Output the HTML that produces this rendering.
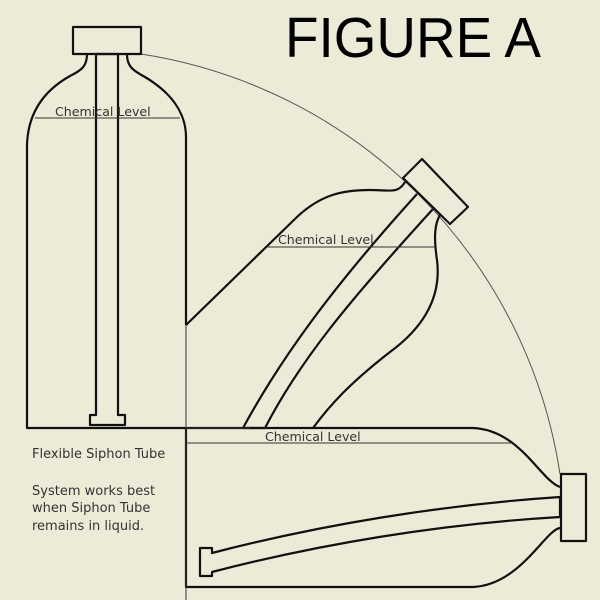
<!DOCTYPE html>
<html><head><style>
html,body{margin:0;padding:0;background:#ecebd7;}
svg{display:block}
</style></head><body>
<svg width="600" height="600" viewBox="0 0 600 600" xmlns="http://www.w3.org/2000/svg">
<rect width="600" height="600" fill="#ecebd7"/>
<path d="M141,54 A501,501 0 0 1 560,474" fill="none" stroke="#555" stroke-width="1"/>
<g fill="none" stroke="#111" stroke-width="2.2" stroke-linejoin="round">
<rect x="73" y="27" width="68" height="27"/>
<path d="M87,54 C87,66 82,70 70,76 C45,90 28,112 27,145 L27,428 L186,428"/>
<path d="M127,54 C127,66 132,70 145,77 C170,92 186,112 186,137 L186,325"/>
<path d="M96,54 L96,415 L90,415 L90,425 L125,425 L125,415 L118,415 L118,54 Z"/>
<path d="M186,325 L298,216 C320,196 340,190 370,190 C390,190 398,194 405,182"/>
<polygon points="403,178 422,159 468,207 450,224"/>
<path d="M440,215 C434,225 434,240 437,260 C442,300 420,330 390,352 C350,383 330,405 313,428"/>
<path d="M243,428 C280,360 330,290 417,194"/>
<path d="M265,428 C300,360 350,300 433,209"/>
<path d="M243,428 L265,428"/>
<path d="M186,428 L473,428 C520,430 540,480 560,487"/>
<path d="M186,428 L186,587 L473,587 C520,585 545,530 560,528"/>
<rect x="561" y="474" width="25" height="67"/>
<path d="M560,497 C440,505 320,525 212,553 L212,548 L200,548 L200,576 L212,576 L212,572 C320,544 440,524 560,517 Z"/>
</g>
<g stroke="#333" stroke-width="1" fill="none">
<line x1="35" y1="118" x2="180" y2="118"/>
<line x1="268" y1="247" x2="435" y2="247"/>
<line x1="186" y1="443" x2="512" y2="443"/>
<line x1="186" y1="325" x2="186" y2="600"/>
<line x1="186" y1="428" x2="250" y2="428"/>
</g>
<g font-family="DejaVu Sans, sans-serif" fill="#333" font-size="12.6">
<text x="55" y="116">Chemical Level</text>
<text x="278" y="244">Chemical Level</text>
<text x="265" y="441">Chemical Level</text>
<text x="32" y="458" font-size="13">Flexible Siphon Tube</text>
<text x="32" y="495" font-size="13">System works best</text>
<text x="32" y="512" font-size="13">when Siphon Tube</text>
<text x="32" y="530" font-size="13">remains in liquid.</text>
</g>
<text x="285" y="57" font-family="Liberation Sans, sans-serif" font-size="57" textLength="256" lengthAdjust="spacingAndGlyphs" fill="#000">FIGURE A</text>
</svg>
</body></html>
